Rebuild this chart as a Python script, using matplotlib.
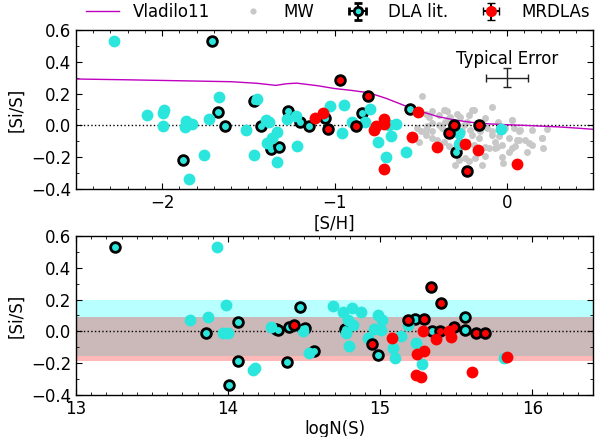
import numpy as np
from matplotlib import pyplot as plt
from matplotlib.ticker import MultipleLocator

# Vladilo11 model curve
vlad_sh = [-2.5, -2.2, -1.9, -1.6, -1.45, -1.34, -1.28, -1.22, -1.1, -1.0, -0.9, -0.8, -0.7,
           -0.63, -0.56, -0.5, -0.4, -0.3, -0.2, -0.1, 0.0, 0.1, 0.2, 0.3, 0.4, 0.5]
vlad_sis = [0.292, 0.287, 0.281, 0.275, 0.265, 0.252, 0.262, 0.266, 0.25, 0.232, 0.22, 0.205, 0.17,
            0.14, 0.11, 0.088, 0.055, 0.033, 0.018, 0.009, 0.004, 0.0, -0.005, -0.01, -0.017, -0.025]

# Milky Way stars
mw_sh = [-0.495, -0.433, -0.471, -0.394, -0.365, -0.346, -0.292, -0.336, -0.269, -0.220, -0.191,
         -0.230, -0.085, -0.052, 0.027, -0.124, -0.114, -0.085, -0.046, -0.008, 0.041, 0.070,
         0.108, 0.070, 0.147, 0.205, 0.209, 0.012, -0.046, -0.066, -0.027, 0.012, 0.050, -0.066,
         -0.104, -0.124, -0.182, -0.143, -0.220, -0.240, -0.278, -0.298, -0.023, -0.085, -0.162,
         -0.201, -0.191, -0.230, -0.211, -0.172, -0.153, -0.375, -0.433, -0.471, -0.500, -0.404,
         -0.365, -0.336, -0.433, -0.278, -0.259, -0.249, -0.326, -0.394, -0.356, -0.433, -0.462,
         -0.520, -0.510, 0.234, 0.205, 0.031, 0.147, 0.128, 0.060, -0.027, -0.056, -0.124, 0.031,
         0.118, 0.079, -0.452, -0.356, -0.201, -0.471, -0.327]
mw_sis = [0.182, 0.088, 0.071, 0.062, 0.098, 0.088, 0.071, 0.046, 0.050, 0.062, 0.098,
          0.024, 0.113, 0.024, 0.035, 0.046, -0.018, -0.038, -0.007, -0.018, -0.018, -0.038,
          -0.091, -0.091, -0.127, -0.081, -0.143, -0.081, -0.070, -0.102, -0.123, -0.165, -0.133, -0.144,
          -0.144, -0.196, -0.207, -0.249, -0.228, -0.207, -0.217, -0.249, -0.238, -0.060, -0.081,
          -0.060, -0.123, -0.102, -0.028, -0.018, -0.038, -0.018, -0.038, -0.060, -0.038, -0.091,
          -0.102, -0.133, -0.081, -0.081, -0.038, 0.003, -0.007, 0.003, 0.024, 0.014, -0.007,
          -0.018, -0.102, -0.020, -0.083, 0.033, -0.030, -0.114, -0.093, -0.198, -0.135, -0.135, -0.146,
          -0.167, -0.030, 0.050, 0.096, 0.096, -0.030, 0.054]

# top panel: [Si/S] vs [S/H]
dla_sh = [-2.278, -2.089, -1.988, -1.998, -1.998, -1.863, -1.870, -1.824, -1.728, -1.668, -1.760,
          -1.843, -1.515, -1.451, -1.399, -1.380, -1.335, -1.360, -1.390, -1.467, -1.335, -1.274,
          -1.225, -1.216, -1.028, -0.945, -0.955, -0.897, -0.794, -0.823, -0.746, -0.703, -0.674,
          -0.684, -0.645, -0.584, -0.278, -0.276, -0.033]
dla_sis = [0.533, 0.062, 0.098, 0.077, -0.007, 0.025, -0.009, 0.008, 0.037, 0.176, -0.186,
           -0.337, -0.028, 0.164, 0.032, 0.021, -0.045, -0.080, -0.112, -0.186, -0.234, 0.042,
           0.061, -0.133, 0.123, 0.126, -0.047, 0.022, 0.100, 0.022, -0.104, -0.202, -0.068,
           0.001, 0.006, -0.167, -0.047, -0.120, -0.024]
dlae_sh = [-1.708, -1.677, -1.637, -1.878, -1.467, -1.424, -1.370, -1.322, -1.268, -1.200, -1.148,
           -1.055, -0.839, -0.564, -0.294]
dlae_sis = [0.533, 0.085, -0.002, -0.217, 0.151, -0.004, -0.148, -0.137, 0.088, 0.019, -0.005,
            0.047, 0.080, 0.105, -0.168]
mr_sh = [-1.115, -1.067, -0.771, -0.761, -0.713, -0.713, -0.713, -0.552, -0.516, -0.404, -0.244,
         -0.166, 0.057]
mr_sis = [0.047, 0.079, -0.030, -0.005, 0.037, 0.006, -0.278, -0.076, 0.082, -0.134, -0.116,
          -0.157, -0.244]
mre_sh = [-1.036, -0.968, -0.874, -0.804, -0.336, -0.305, -0.234, -0.163]
mre_sis = [-0.026, 0.285, -0.005, 0.184, -0.046, 0.005, -0.288, 0.003]

# bottom panel: [Si/S] vs logN(S)
dla_n = [13.925, 13.988, 13.747, 13.865, 13.966, 13.999, 14.174, 14.163, 14.283, 14.495, 14.530,
         14.688, 14.753, 14.814, 14.873, 14.792, 14.819, 14.775, 14.797, 14.917, 14.961, 15.004,
         14.983, 15.015, 15.085, 15.096, 15.136, 15.186, 15.234, 15.278, 15.813]
dla_n_sis = [0.529, 0.167, 0.069, 0.090, -0.011, -0.011, -0.232, -0.246, 0.027, 0.004, -0.139,
             0.159, 0.123, 0.144, 0.123, 0.071, 0.039, -0.013, -0.091, -0.045, 0.012, 0.008,
             0.102, 0.071, -0.108, -0.167, -0.030, 0.039, -0.072, -0.209, -0.171]
dlae_n = [13.256, 13.852, 14.064, 14.064, 14.005, 14.316, 14.331, 14.386, 14.403, 14.508, 14.473,
          14.567, 14.768, 14.987, 15.227, 15.339, 15.555, 15.555]
dlae_n_sis = [0.529, -0.011, 0.058, -0.190, -0.341, 0.014, 0.006, -0.194, 0.027, 0.020, 0.150,
              -0.122, 0.012, -0.150, 0.077, 0.001, 0.087, 0.008]
mr_n = [15.077, 15.284, 15.365, 15.245, 15.289, 15.234, 15.267, 15.453, 15.468, 15.606, 15.835]
mr_n_sis = [-0.041, 0.003, -0.051, -0.144, -0.123, -0.276, -0.290, 0.001, -0.034, -0.255, -0.160]
mre_n = [14.436, 14.946, 15.186, 15.289, 15.337, 15.398, 15.391, 15.485, 15.628, 15.689]
mre_n_sis = [0.037, -0.081, 0.071, 0.079, 0.281, 0.180, 0.001, 0.029, -0.013, -0.013]

# scatter bands
dla_band = (-0.155, 0.20)
mr_band = (-0.19, 0.09)

CYAN = '#2ae6dc'
plt.rcParams.update({
    'font.size': 12,
    'xtick.direction': 'in', 'ytick.direction': 'in',
    'xtick.top': True, 'ytick.right': True,
    'xtick.major.size': 4, 'ytick.major.size': 4,
    'xtick.minor.size': 2, 'ytick.minor.size': 2,
    'axes.linewidth': 1.0,
})

fig = plt.figure(figsize=(5.96, 4.37), dpi=100)
ax1 = fig.add_axes([0.1275, 0.568, 0.8675, 0.363])
ax2 = fig.add_axes([0.1275, 0.0968, 0.8675, 0.363])

ms = 8.5   # plain markers
mse = 7.0  # black-edged markers
mew = 2.0

# Top panel
ax1.plot(mw_sh, mw_sis, 'o', color='#c8c8c8', ms=5, mec='none', zorder=1)
ax1.plot(vlad_sh, vlad_sis, '-', color='m', lw=1, zorder=2)
ax1.axhline(0, color='k', ls=':', lw=1, zorder=1.5)
ax1.plot(dlae_sh, dlae_sis, 'o', color=CYAN, ms=mse, mec='k', mew=mew, zorder=3)
ax1.plot(dla_sh, dla_sis, 'o', color=CYAN, ms=ms, mec='none', zorder=3)
ax1.plot(mre_sh, mre_sis, 'o', color='r', ms=mse, mec='k', mew=mew, zorder=4)
ax1.plot(mr_sh, mr_sis, 'o', color='r', ms=ms, mec='none', zorder=4)
ax1.errorbar([0.0], [0.30], xerr=[0.12], yerr=[0.06], fmt='none', ecolor='#222222',
             elinewidth=1, capsize=3)
ax1.text(0.0, 0.415, 'Typical Error', ha='center', va='center')
ax1.set_xlim(-2.5, 0.5)
ax1.set_ylim(-0.4, 0.6)
ax1.set_xlabel('[S/H]', labelpad=2)
ax1.set_ylabel('[Si/S]')

# Bottom panel
ax2.axhspan(*dla_band, color='cyan', alpha=0.28, lw=0, zorder=0)
ax2.axhspan(*mr_band, color='red', alpha=0.28, lw=0, zorder=0)
ax2.axhline(0, color='k', ls=':', lw=1, zorder=1.5)
ax2.plot(dlae_n, dlae_n_sis, 'o', color=CYAN, ms=mse, mec='k', mew=mew, zorder=3)
ax2.plot(dla_n, dla_n_sis, 'o', color=CYAN, ms=ms, mec='none', zorder=3)
ax2.plot(mre_n, mre_n_sis, 'o', color='r', ms=mse, mec='k', mew=mew, zorder=4)
ax2.plot(mr_n, mr_n_sis, 'o', color='r', ms=ms, mec='none', zorder=4)
ax2.set_xlim(13, 16.4)
ax2.set_ylim(-0.4, 0.6)
ax2.set_xlabel('logN(S)', labelpad=2)
ax2.set_ylabel('[Si/S]')

for ax in (ax1, ax2):
    ax.xaxis.set_minor_locator(MultipleLocator(0.1))
    ax.yaxis.set_minor_locator(MultipleLocator(0.1))
    ax.yaxis.set_major_locator(MultipleLocator(0.2))
ax1.xaxis.set_major_locator(MultipleLocator(1))
ax2.xaxis.set_major_locator(MultipleLocator(1))

# Legend handles
h1, = ax1.plot([], [], '-', color='m', lw=1)
h2, = ax1.plot([], [], 'o', color='#c8c8c8', ms=4.5, mec='none')
h3 = ax1.errorbar([np.nan], [np.nan], xerr=[0.1], yerr=[0.1], fmt='o', color=CYAN, mec='k',
                  mew=2, ms=6, ecolor='k', capsize=3)
h4 = ax1.errorbar([np.nan], [np.nan], xerr=[0.1], yerr=[0.1], fmt='o', color='r', mec='r',
                  ms=7, ecolor='k', capsize=3)
fig.legend([h1, h2, h3, h4], ['Vladilo11', 'MW', 'DLA lit.', 'MRDLAs'], loc='center',
           bbox_to_anchor=(0.567, 0.972), ncol=4, frameon=False, handlelength=2.0,
           columnspacing=1.6, handletextpad=0.8, borderpad=0, numpoints=1)

fig.savefig('out.png', dpi=100)
